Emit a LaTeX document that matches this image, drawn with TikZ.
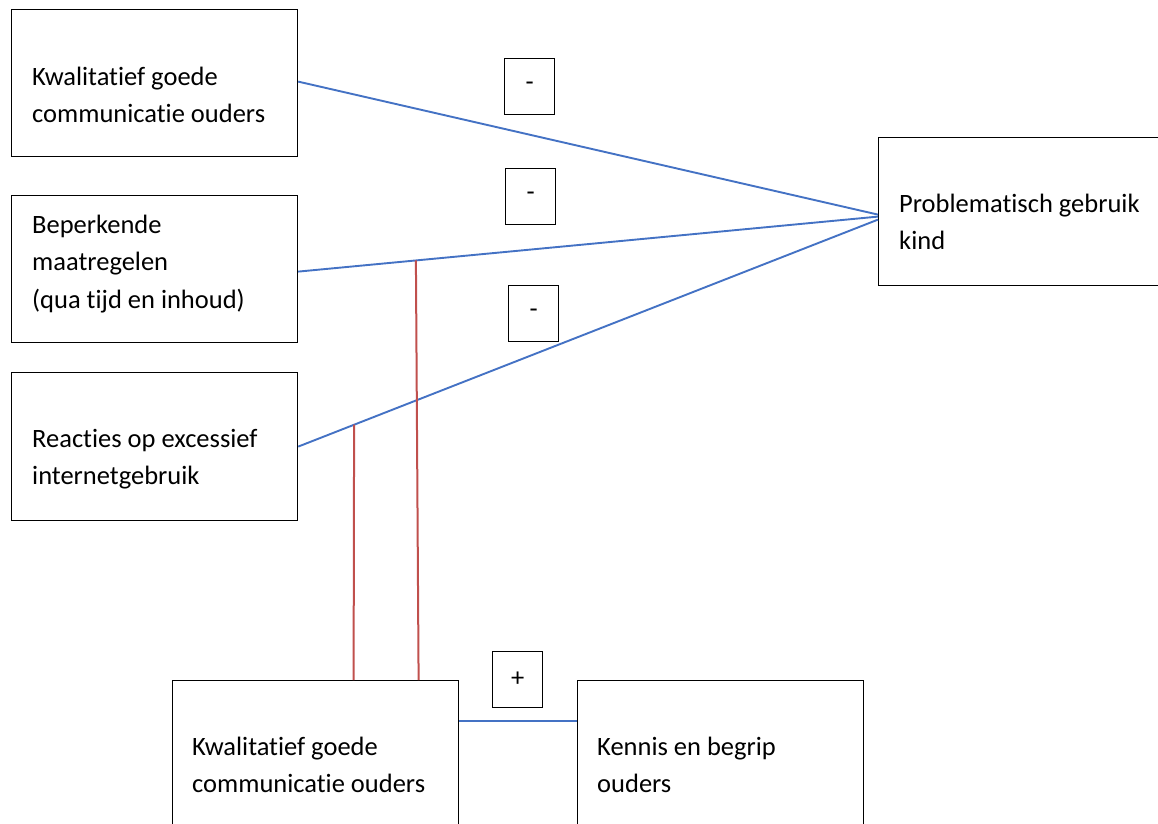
\documentclass[tikz,border=0pt]{standalone}
\usepackage{fontspec}
\setmainfont[Ligatures=NoCommon]{Carlito}
\usetikzlibrary{calc}
\definecolor{lineblue}{HTML}{4472C4}
\definecolor{linered}{HTML}{C0504D}
\begin{document}
\begin{tikzpicture}[x=1pt,y=-1pt,
  box/.style={draw=black, line width=1.2pt, rectangle, inner sep=0pt, anchor=north west},
  bigbox/.style={box, minimum width=286pt, minimum height=147pt},
  signbox/.style={box, minimum width=50pt, minimum height=56pt, font=\fontsize{26.5}{31}\selectfont},
  txt/.style={anchor=base west, inner sep=0pt, font=\fontsize{26.5}{37.5}\selectfont},
  bluelink/.style={draw=lineblue, line width=1.9pt},
  redlink/.style={draw=linered, line width=2pt}]
\useasboundingbox (0,0) rectangle (1158,823);

% boxes
\node[bigbox] (a) at (11,9) {};
\node[bigbox] (b) at (11,195) {};
\node[bigbox, minimum height=148pt] (c) at (11,372) {};
\node[box, minimum width=292pt, minimum height=148pt] (d) at (878,137) {};
\node[box, minimum width=286pt, minimum height=152pt] (e) at (172,680) {};
\node[box, minimum width=286pt, minimum height=152pt] (f) at (577,680) {};

% texts
\node[txt] (at) at (32,85) {\begin{tabular}[t]{@{}l@{}}Kwalitatief goede\\communicatie ouders\end{tabular}};
\node[txt] (bt) at (32,233) {\begin{tabular}[t]{@{}l@{}}Beperkende\\maatregelen\\(qua tijd en inhoud)\end{tabular}};
\node[txt] (ct) at (32,447) {\begin{tabular}[t]{@{}l@{}}Reacties op excessief\\internetgebruik\end{tabular}};
\node[txt] (dt) at (899,212) {\begin{tabular}[t]{@{}l@{}}Problematisch gebruik\\kind\end{tabular}};
\node[txt] (et) at (192,755) {\begin{tabular}[t]{@{}l@{}}Kwalitatief goede\\communicatie ouders\end{tabular}};
\node[txt] (ft) at (597,755) {\begin{tabular}[t]{@{}l@{}}Kennis en begrip\\ouders\end{tabular}};

% sign boxes
\node[signbox] (s1) at (504,58) {-};
\node[signbox] (s2) at (505,168) {-};
\node[signbox] (s3) at (508,285) {-};
\node[signbox] (s4) at (492,651) {+};

% connectors
\draw[bluelink] ([yshift=1.5pt]a.east) -- ([yshift=-3pt]d.west);
\draw[bluelink] ([yshift=-2.5pt]b.east) -- coordinate[pos=0.203] (pb) ([yshift=-5pt]d.west);
\draw[bluelink] (c.east) -- coordinate[pos=0.0964] (pc) ([yshift=-8pt]d.west);
\draw[bluelink] ([yshift=36pt]e.east) -- ([yshift=36pt]f.west);

\draw[redlink] (pc) -- ([xshift=38pt]e.north);
\draw[redlink] (pb) -- ([xshift=103pt]e.north);
\end{tikzpicture}
\end{document}
